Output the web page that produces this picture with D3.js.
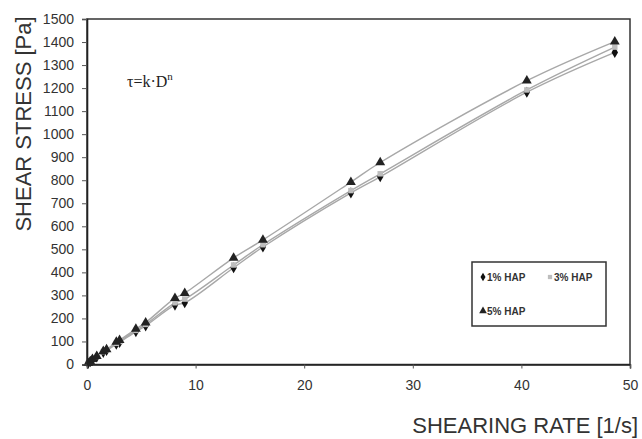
<!DOCTYPE html>
<html>
<head>
<meta charset="utf-8">
<script src="https://cdn.jsdelivr.net/npm/d3@7"></script>
<style>
  body { margin: 0; background: #fff; }
  svg { display: block; }
</style>
</head>
<body>
<script>
// DATA
const seriesNames = ["1% HAP", "3% HAP", "5% HAP"];
const shearRate = [0.1, 0.3, 0.5, 0.9, 1.5, 1.8, 2.7, 3, 4.5, 5.4, 8.1, 9, 13.5, 16.2, 24.3, 27, 40.5, 48.6];
const stress1 = [5, 12, 20, 33, 53, 61, 88, 96, 143, 168, 258, 268, 420, 510, 745, 815, 1182, 1355];
const stress3 = [5, 13, 21, 35, 56, 64, 92, 100, 148, 174, 268, 284, 432, 520, 755, 828, 1192, 1378];
const stress5 = [6, 13, 23, 36, 58, 65, 98, 106, 154, 182, 288, 310, 463, 541, 792, 877, 1232, 1402];
const xTicks = [0, 10, 20, 30, 40, 50];
const yTicks = [0, 100, 200, 300, 400, 500, 600, 700, 800, 900, 1000, 1100, 1200, 1300, 1400, 1500];

// Layout
const width = 642;
const height = 439;
const margin = {top: 19, right: 12, bottom: 74.5, left: 87};
const innerW = width - margin.left - margin.right;
const innerH = height - margin.top - margin.bottom;

const svg = d3.select('body')
  .append('svg')
  .attr('width', width)
  .attr('height', height);

const x = d3.scaleLinear().domain([0, 50]).range([0, innerW]);
const y = d3.scaleLinear().domain([0, 1500]).range([innerH, 0]);

const g = svg.append('g')
  .attr('transform', `translate(${margin.left},${margin.top})`);

const series = [
  {name: seriesNames[0], values: stress1, symbol: d3.symbolDiamond, size: 36, fill: '#111'},
  {name: seriesNames[1], values: stress3, symbol: d3.symbolSquare, size: 30, fill: '#bdbdbd'},
  {name: seriesNames[2], values: stress5, symbol: d3.symbolTriangle, size: 42, fill: '#222'}
];

// smoothed lines through the measured points
const line = d3.line()
  .x(d => x(d[0]))
  .y(d => y(d[1]))
  .curve(d3.curveCatmullRom.alpha(0.5));
series.forEach(s => {
  g.append('path')
    .attr('d', line(shearRate.map((xv, i) => [xv, s.values[i]])))
    .attr('fill', 'none')
    .attr('stroke', '#a8a8a8')
    .attr('stroke-width', 1.4);
});

// markers
series.forEach(s => {
  g.append('g').selectAll('path')
    .data(shearRate.map((xv, i) => [xv, s.values[i]]))
    .join('path')
    .attr('transform', d => `translate(${x(d[0])},${y(d[1])})`)
    .attr('d', d3.symbol().type(s.symbol).size(s.size))
    .attr('fill', s.fill);
});

// frame
g.append('rect')
  .attr('width', innerW).attr('height', innerH)
  .attr('fill', 'none').attr('stroke', '#333').attr('stroke-width', 1.5);

// axes
const xAxis = g.append('g')
  .attr('transform', `translate(0,${innerH})`)
  .call(d3.axisBottom(x).tickValues(xTicks).tickFormat(d3.format('d')).tickSize(4).tickPadding(12));
const yAxis = g.append('g')
  .call(d3.axisLeft(y).tickValues(yTicks).tickFormat(d3.format('d')).tickSize(5).tickPadding(8));
[xAxis, yAxis].forEach(a => {
  a.select('.domain').attr('stroke', '#222').attr('stroke-width', 1.6);
  a.selectAll('.tick line').attr('stroke', '#555');
  a.selectAll('text')
    .attr('font-family', 'Liberation Sans, Arial, sans-serif')
    .attr('font-size', 14).attr('fill', '#333');
});

// axis titles
svg.append('text')
  .attr('x', 638).attr('y', 433)
  .attr('text-anchor', 'end')
  .attr('font-family', 'Liberation Sans, Arial, sans-serif')
  .attr('font-size', 22).attr('fill', '#333')
  .text('SHEARING RATE [1/s]');
svg.append('text')
  .attr('transform', 'translate(31,124) rotate(-90)')
  .attr('text-anchor', 'middle')
  .attr('font-family', 'Liberation Sans, Arial, sans-serif')
  .attr('font-size', 22).attr('fill', '#333')
  .text('SHEAR STRESS [Pa]');

// formula
const formula = svg.append('text')
  .attr('x', 127).attr('y', 87)
  .attr('font-family', 'Liberation Serif, Times New Roman, serif')
  .attr('font-size', 16).attr('fill', '#222');
formula.append('tspan').text('τ=k·D');
formula.append('tspan').attr('dy', -7).attr('font-size', 11).text('n');

// legend
const legend = svg.append('g').attr('transform', 'translate(472,262)');
legend.append('rect')
  .attr('width', 134).attr('height', 64)
  .attr('fill', '#fff').attr('stroke', '#333').attr('stroke-width', 1.5);
const legendPos = [[11, 15], [78, 15], [11, 49]];
series.forEach((s, i) => {
  const item = legend.append('g').attr('transform', `translate(${legendPos[i][0]},${legendPos[i][1]})`);
  item.append('path')
    .attr('d', d3.symbol().type(s.symbol).size(s.size * 0.6))
    .attr('fill', s.fill);
  item.append('text')
    .attr('x', 4).attr('y', 3.5)
    .attr('font-family', 'Liberation Sans, Arial, sans-serif')
    .attr('font-size', 10).attr('font-weight', 'bold').attr('fill', '#333')
    .text(s.name);
});
</script>
</body>
</html>
